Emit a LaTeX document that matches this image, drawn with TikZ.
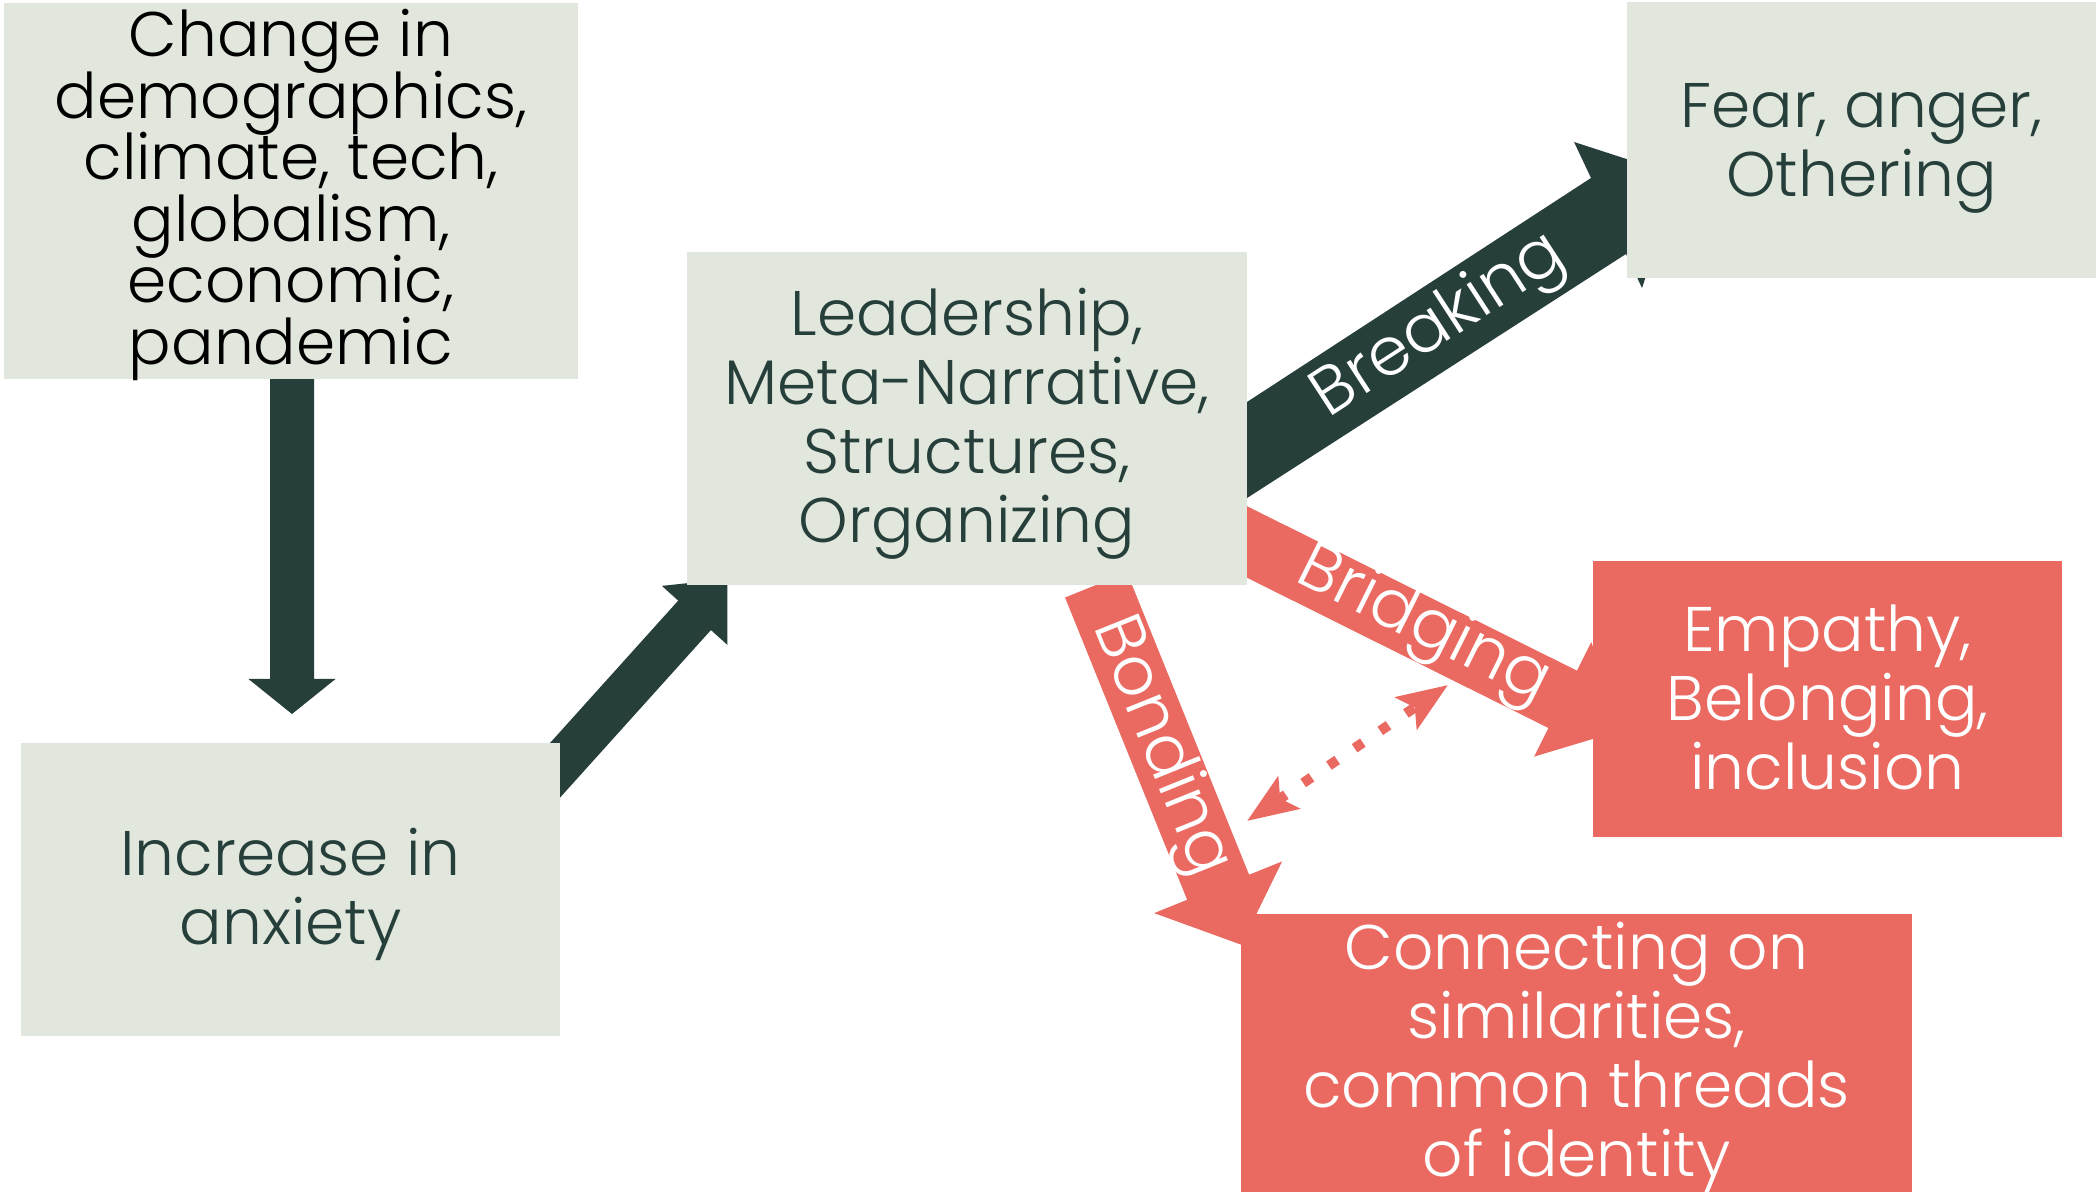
\documentclass[tikz,border=0pt]{standalone}
\usepackage{fontspec}
\setmainfont{Poppins}[UprightFont={* Light}]
\usetikzlibrary{arrows.meta}
\definecolor{boxgray}{HTML}{E1E7DC}
\definecolor{dkgreen}{HTML}{263F3B}
\definecolor{coral}{HTML}{EA6A61}
\newcommand{\tightlines}{\lineskiplimit=-1000pt\relax\lineskip=0pt\relax}
% #1 colour, #2 start coordinate, #3 angle, #4 length, #5 shaft half width, #6 head half width, #7 head length
\newcommand{\blockarrow}[7]{%
  \begin{scope}[shift={(#2)}, rotate=#3]
    \fill[#1] (0,-#5) -- ({#4-#7},-#5) -- ({#4-#7},-#6) -- (#4,0) -- ({#4-#7},#6) -- ({#4-#7},#5) -- (0,#5) -- cycle;
  \end{scope}}
\begin{document}
\begin{tikzpicture}[x=1pt,y=1pt,
  greybox/.style={rectangle, fill=boxgray, inner sep=0pt},
  redbox/.style={greybox, fill=coral},
  boxtext/.style={inner sep=0pt, align=center, text=dkgreen,
    font=\fontsize{63pt}{69pt}\selectfont\tightlines},
  lbl/.style={text=white, inner sep=0pt, font=\fontsize{67pt}{67pt}\selectfont},
  dotarrow/.style={coral, line width=10pt, dash pattern=on 10pt off 21pt,
    {Stealth[length=50pt,width=38pt,inset=10pt]}-{Stealth[length=50pt,width=38pt,inset=10pt]}}]
\useasboundingbox (0,0) rectangle (2100,1192);
\fill[white] (0,0) rectangle (2100,1192);
% arrow start points
\coordinate (a1s) at (292,817);
\coordinate (a2s) at (540,405);
\coordinate (a4s) at (1211,668);
\coordinate (a5s) at (1096,607);
% block arrows
\blockarrow{dkgreen}{a1s}{-90}{339}{22}{43.5}{35}
\blockarrow{dkgreen}{a2s}{48}{280}{22}{44}{49}
\blockarrow{coral}{a4s}{-26.5}{461}{32}{64}{68}
\blockarrow{coral}{a5s}{-68}{388}{33.4}{69}{62}
% Breaking arrow (leader -> fear)
\coordinate (b1) at (1200,759.4);
\coordinate (b2) at (1591,1014);
\coordinate (b3) at (1574,1050);
\coordinate (btip) at (1679,1016);
\coordinate (b5) at (1642,904);
\coordinate (b6) at (1626,938);
\coordinate (b7) at (1200,663.7);
\fill[dkgreen] (b1) -- (b2) -- (b3) -- (btip) -- (b5) -- (b6) -- (b7) -- cycle;
% boxes
\node[greybox, minimum width=574pt, minimum height=376pt] (change) at (291,1001) {};
\node[boxtext, text=black, font=\fontsize{63pt}{61.5pt}\selectfont\tightlines]
  (changetext) at ([yshift=-4pt]change.center)
  {Change in\\demographics,\\climate, tech,\\globalism,\\economic,\\pandemic};
\node[greybox, minimum width=539pt, minimum height=293pt] (anxiety) at (290.5,302.5) {};
\node[boxtext] (anxietytext) at ([yshift=-5pt]anxiety.center) {Increase in\\anxiety};
\node[greybox, minimum width=560pt, minimum height=333pt] (leader) at (967,773.5) {};
\node[boxtext] (leadertext) at ([yshift=-5pt]leader.center)
  {Leadership,\\Meta-Narrative,\\Structures,\\Organizing};
\node[greybox, minimum width=469pt, minimum height=276pt] (fear) at (1861.5,1052) {};
\node[boxtext] (feartext) at ([yshift=-8pt]fear.center) {Fear, anger,\\Othering};
\node[redbox, minimum width=469pt, minimum height=276pt] (empathy) at (1827.5,493) {};
\node[boxtext, text=white] (empathytext) at ([yshift=2pt]empathy.center)
  {Empathy,\\Belonging,\\inclusion};
\node[redbox, minimum width=671pt, minimum height=278pt] (connect) at (1576.5,139) {};
\node[boxtext, text=white] (connecttext) at ([yshift=-4pt]connect.center)
  {Connecting on\\similarities,\\common threads\\of identity};
% arrow labels
\node[lbl, rotate=33] (lbreak) at (1440,865) {Breaking};
\node[lbl, rotate=-26.5] (lbridge) at (1423,565) {Bridging};
\node[lbl, rotate=-68] (lbond) at (1160,445) {Bonding};
% dotted double arrow
\coordinate (d1) at (1247,371);
\coordinate (d2) at (1448,507);
\draw[dotarrow] (d1) -- (d2);
\end{tikzpicture}
\end{document}
